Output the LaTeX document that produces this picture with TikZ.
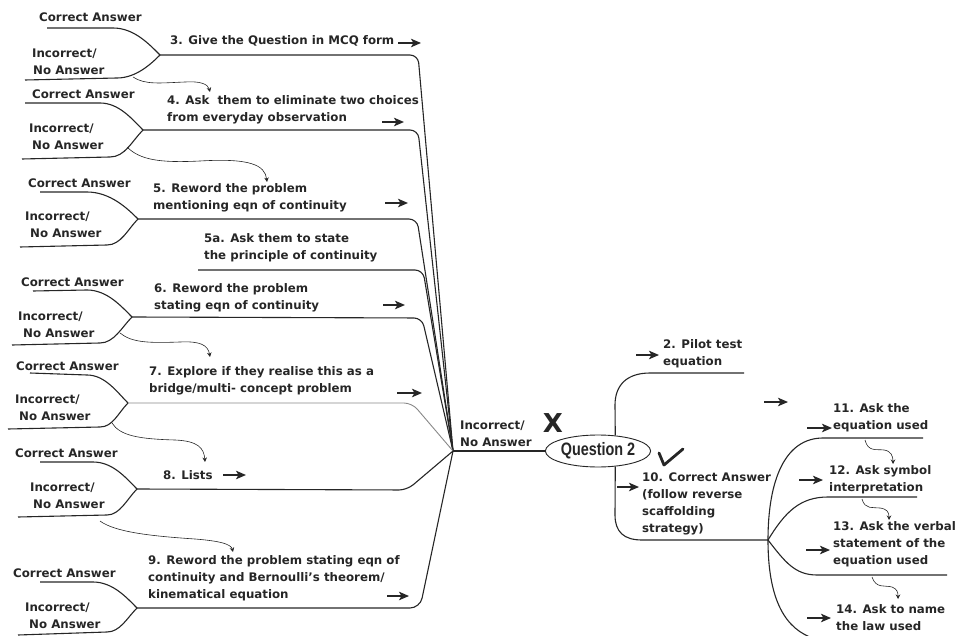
\documentclass[tikz,border=0pt]{standalone}
\usepackage{fontspec}
\usepackage{graphicx}
\setmainfont{DejaVu Sans}
\newfontfamily\qfont{Liberation Sans}
\usetikzlibrary{arrows.meta,shapes.geometric}
\definecolor{ink}{HTML}{262626}
\begin{document}
\begin{tikzpicture}[x=1pt,y=-1pt,
  txt/.style={inner sep=0pt,anchor=west,align=left,text=ink,font=\bfseries\fontsize{11.8}{17}\selectfont},
  ln/.style={draw=ink,line width=1.1pt},
  lnlight/.style={draw=ink!55,line width=0.9pt},
  sarr/.style={draw=ink,line width=1.5pt,-{Stealth[length=10pt,width=8.5pt,inset=2.5pt]}},
  warr/.style={draw=ink,line width=0.6pt,-{Stealth[length=4.5pt,width=4.5pt]}},
]
\useasboundingbox (0,0) rectangle (971,636);

% ---------- coordinates
\coordinate (hub) at (453,451);
\coordinate (F1) at (160,55);
\coordinate (F2) at (143,130);
\coordinate (F3) at (138,219);
\coordinate (F4) at (132,317);
\coordinate (F5) at (128,403);
\coordinate (F6) at (137,489);
\coordinate (F7) at (137,608);
\coordinate (junc) at (768,540);

% ---------- left answer labels
\node[txt] (ca1) at (39,17) {Correct Answer};
\node[txt] (ia1) at (32,62) {Incorrect/\\\hspace*{1pt}No Answer};
\node[txt] (ca2) at (32,94) {Correct Answer};
\node[txt] (ia2) at (29,136.5) {Incorrect/\\\hspace*{3pt}No Answer};
\node[txt] (ca3) at (28,183) {Correct Answer};
\node[txt] (ia3) at (25,224.5) {Incorrect/\\\hspace*{5pt}No Answer};
\node[txt] (ca4) at (21,282) {Correct Answer};
\node[txt] (ia4) at (18,324.5) {Incorrect/\\\hspace*{5pt}No Answer};
\node[txt] (ca5) at (16,366) {Correct Answer};
\node[txt] (ia5) at (15,408) {Incorrect/\\\hspace*{4pt}No Answer};
\node[txt] (ca6) at (15,453) {Correct Answer};
\node[txt] (ia6) at (30,495.5) {Incorrect/\\\hspace*{3pt}No Answer};
\node[txt] (ca7) at (13,573) {Correct Answer};
\node[txt] (ia7) at (25,615.5) {Incorrect/\\\hspace*{4pt}No Answer};

% ---------- forks
\draw[ln] (47,28) -- (113,28) .. controls (134,28) and (149,44) .. (F1);
\draw[ln] (25,80) -- (117,78) .. controls (136,78) and (151,64) .. (F1);
\draw[ln] (25,103) -- (100,103) .. controls (119,103) and (132,119) .. (F2);
\draw[ln] (22,159) -- (110,157) .. controls (125,157) and (132,141) .. (F2);
\draw[ln] (40,192) -- (87,192) .. controls (110,192) and (127,208) .. (F3);
\draw[ln] (20,247) -- (107,245) .. controls (121,245) and (128,229) .. (F3);
\draw[ln] (33,291) -- (87,290) .. controls (107,290) and (121,306) .. (F4);
\draw[ln] (12,345) -- (100,343) .. controls (114,343) and (122,327) .. (F4);
\draw[ln] (30,373) -- (87,375) .. controls (105,375) and (117,392) .. (F5);
\draw[ln] (8,429) -- (100,427) .. controls (113,427) and (118,413) .. (F5);
\draw[ln] (40,462) -- (93,462) .. controls (113,462) and (126,478) .. (F6);
\draw[ln] (18,517) -- (107,515) .. controls (120,515) and (127,499) .. (F6);
\draw[ln] (40,582) -- (93,582) .. controls (113,582) and (127,598) .. (F7);
\draw[ln] (18,635) -- (107,632) .. controls (120,632) and (127,618) .. (F7);

% ---------- item texts
\node[txt] (n3) at (170,41) {3. Give the Question in MCQ form};
\node[txt] (n4) at (167,110) {4. Ask~ them to eliminate two choices\\from everyday observation};
\node[txt] (n5) at (153,198) {5. Reword the problem\\mentioning eqn of continuity};
\node[txt] (n5a) at (204,247.5) {5a. Ask them to state\\the principle of continuity};
\node[txt] (n6) at (154,298) {6. Reword the problem\\stating eqn of continuity};
\node[txt] (n7) at (149,381) {7. Explore if they realise this as a\\bridge/multi- concept problem};
\node[txt] (n8) at (163,475) {8. Lists};
\node[txt] (n9) at (148,578) {9. Reword the problem stating eqn of\\continuity and Bernoulli's theorem/\\kinematical equation};

% ---------- branches to hub
\draw[ln,rounded corners=8pt] (F1) -- (418,55) -- (hub);
\draw[ln,rounded corners=8pt] (F2) -- (418,130) -- (hub);
\draw[ln,rounded corners=8pt] (F3) -- (417,219) -- (hub);
\draw[ln,rounded corners=8pt] (198,270) -- (423,270) -- (hub);
\draw[ln,rounded corners=8pt] (F4) -- (422,318) -- (hub);
\draw[lnlight,rounded corners=8pt] (F5) -- (412,403) -- (hub);
\draw[ln,rounded corners=8pt] (F6) -- (407,490) -- (hub);
\draw[ln,rounded corners=10pt] (F7) -- (420,608) -- (hub);

% ---------- short arrows (left)
\draw[sarr] (398,43) -- (421,43);
\draw[sarr] (382,122) -- (404,122);
\draw[sarr] (385,203) -- (408,203);
\draw[sarr] (383,305) -- (405,305);
\draw[sarr] (397,393) -- (422,393);
\draw[sarr] (223,475) -- (246,475);
\draw[sarr] (387,596) -- (409,596);

% ---------- wiggly arrows (left)
\draw[warr] (133,77) .. controls (145,85) and (160,83) .. (185,82) .. controls (200,81) and (208,84) .. (210,92);
\draw[warr] (127,147) .. controls (140,160) and (160,163) .. (200,161) .. controls (250,158) and (265,165) .. (267,182);
\draw[warr] (120,333) .. controls (132,343) and (150,343) .. (180,342) .. controls (200,341) and (208,345) .. (210,357);
\draw[warr] (112,423) .. controls (120,436) and (140,439) .. (175,440) .. controls (198,441) and (204,448) .. (205,462);
\draw[warr] (100,521) .. controls (115,532) and (150,536) .. (195,539) .. controls (220,541) and (231,544) .. (233,552);

% ---------- centre
\node[txt] (inc) at (460,433.5) {Incorrect/\\No Answer};
\node[inner sep=0pt,text=ink,font=\bfseries\fontsize{26}{26}\selectfont] (xmark) at (553,423) {X};
\node[draw=ink,line width=0.9pt,ellipse,minimum width=101pt,minimum height=32pt,inner sep=0pt,text=ink] (q2) at (598,451)
  {\qfont\bfseries\fontsize{18}{18}\selectfont\scalebox{0.8}[1]{Question 2}};
\draw[ln] (hub) -- (q2.west);
\draw[draw=ink,line width=2.8pt,line cap=round,line join=round] (659,453) -- (664,465) -- (683,449);

% ---------- right side
\draw[ln] (q2.42) -- (615,405) .. controls (615,385) and (627,373) .. (650,373) -- (744,373);
\node[txt] (p2) at (663,353.5) {2. Pilot test\\equation};
\draw[sarr] (636,355) -- (659,355);
\draw[sarr] (764,402) -- (788,402);

\draw[ln] (q2.-42) -- (615,515) .. controls (615,532) and (624,540) .. (642,540) -- (junc);
\node[txt] (n10) at (642,504) {10. Correct Answer\\(follow reverse\\scaffolding\\strategy)};
\draw[sarr] (617,487) -- (639,487);

\draw[ln] (junc) .. controls (768,480) and (785,438) .. (823,438) -- (923,438);
\draw[ln] (junc) .. controls (785,512) and (800,497) .. (828,497) -- (917,497);
\draw[ln] (junc) .. controls (785,562) and (795,575) .. (817,575) -- (947,575);
\draw[ln] (junc) .. controls (768,590) and (780,625) .. (810,637);

\node[txt] (n11) at (833,418) {11. Ask the\\equation used};
\node[txt] (n12) at (829,480) {12. Ask symbol\\interpretation};
\node[txt] (n13) at (833,544.5) {13. Ask the verbal\\statement of the\\equation used};
\node[txt] (n14) at (836,618) {14. Ask to name\\the law used};
\draw[sarr] (807,428) -- (832,428);
\draw[sarr] (799,480) -- (823,480);
\draw[sarr] (806,550) -- (830,550);
\draw[sarr] (807,618) -- (831,618);

\draw[warr] (865,440) .. controls (868,452) and (876,449) .. (884,450) .. controls (891,451) and (893,456) .. (893,464);
\draw[warr] (862,499) .. controls (865,510) and (873,507) .. (880,508) .. controls (887,509) and (889,512) .. (889,520);
\draw[warr] (872,577) .. controls (876,589) and (885,585) .. (892,587) .. controls (897,589) and (898,592) .. (898,599);
\end{tikzpicture}
\end{document}
